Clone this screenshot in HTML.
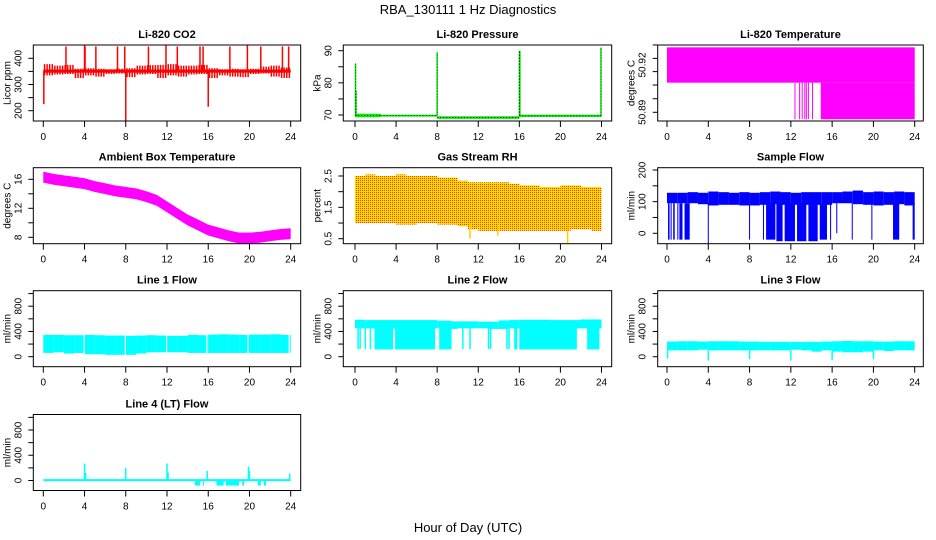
<!DOCTYPE html>
<html><head><meta charset="utf-8">
<style>
html,body{margin:0;padding:0;background:#fff;}
svg{display:block;font-family:"Liberation Sans",sans-serif;}
</style></head>
<body>
<svg id="chart" width="936" height="540" viewBox="0 0 936 540" xmlns="http://www.w3.org/2000/svg">
<defs>
<pattern id="rhpat" width="2" height="2" patternUnits="userSpaceOnUse">
<rect width="2" height="2" fill="#ffdd00"/><rect width="1" height="1" fill="#ff3300"/>
</pattern>
</defs>
<text x="468" y="14" text-anchor="middle" font-size="13">RBA_130111  1 Hz Diagnostics</text>
<text x="468" y="532" text-anchor="middle" font-size="13">Hour of Day (UTC)</text>
</svg>
<script>
// ---- data arrays ----
const xTicks = [0,4,8,12,16,20,24];
const hours = [0,1,2,3,4,5,6,7,8,9,10,11,12,13,14,15,16,17,18,19,20,21,22,23];
// CO2
const co2Hi = [378,372,375,360,362,360,358,360,362,372,374,375,378,372,372,375,362,358,360,358,360,368,372,365];
const co2Lo = [335,338,340,325,335,330,340,342,328,338,340,325,335,330,338,340,325,335,330,328,340,342,330,325];
const co2SpikeT = [0.05,2.2,4.0,4.05,5.1,7.2,7.9,8.0,10.2,11.9,13.0,15.2,15.5,16.0,18.1,19.8,21.1,23.2,23.8];
const co2SpikeV = [225,445,450,445,445,445,445,155,445,450,445,445,445,215,445,450,445,445,445];
// Pressure
const presT = [0,2.5,8,16,24];
const presLo = [69.3,69.5,68.8,69.4];
const presHi = [70.4,70.1,69.6,70.1];
const presSpikeT = [0.05,0.1,8.0,16.0,16.05,23.95];
const presSpikeV = [86,77.5,89.5,90,90,91];
// Li-820 temperature
const tempTicks = [50.8986,50.9073,50.9158,50.9242,50.9327,50.89];
const tempBandStart = [0,14.9];
const tempBandEnd = [24,24];
const tempBandLo = [50.9088,50.8856];
const tempBandHi = [50.9312,50.9088];
const tempLineT = [12.4,12.85,13.1,13.35,13.5,13.7,14.1];
// Ambient box temperature
const ambT = [0,1,2,3,4,5,6,7,8,9,10,11,12,13,14,15,16,17,18,19,20,21,22,23,24];
const ambV = [16.3,16.0,15.8,15.6,15.4,15.0,14.7,14.4,14.2,14.0,13.6,13.1,12.2,11.3,10.4,9.7,9.0,8.6,8.2,7.9,7.9,8.0,8.2,8.4,8.5];
// Gas stream RH
const rhHi = [2.5,2.55,2.5,2.5,2.55,2.5,2.5,2.5,2.45,2.45,2.35,2.3,2.3,2.3,2.3,2.25,2.2,2.2,2.15,2.15,2.2,2.2,2.15,2.15];
const rhLo = [1.0,1.0,1.0,1.0,0.95,0.95,1.0,1.0,0.95,0.95,0.9,0.8,0.75,0.75,0.75,0.75,0.75,0.75,0.75,0.75,0.75,0.8,0.8,0.75];
const rhSpikeT = [11.2,13.9,20.7];
const rhSpikeV = [0.5,0.6,0.35];
// Sample flow
const sfHi = [128,128,130,128,132,130,128,130,128,130,132,130,128,130,130,130,130,132,135,130,132,130,132,130];
const sfLo = [95,95,95,92,88,90,90,88,88,90,92,90,90,90,90,90,95,95,92,90,88,90,92,88];
const sfDropStart = [0.1,0.35,0.6,1.0,1.2,1.7,3.95,7.95,9.3,9.6,10.6,11.4,12.6,13.7,14.8,15.8,16.4,17.9,19.8,21.9,23.8];
const sfDropEnd   = [0.25,0.45,0.75,1.1,1.5,2.2,4.05,8.05,9.4,10.5,11.2,12.4,13.5,14.6,15.5,15.9,16.5,18.0,19.9,22.5,24.0];
const sfDropLo    = [-20,-20,-20,-20,-20,-20,-33,-20,-20,-20,-25,-25,-25,-25,-20,-20,0,-20,-20,-20,-20];
// Line 1 flow
const l1Hi = [345,345,340,340,345,340,335,335,330,335,340,335,330,330,345,340,350,355,350,345,350,350,355,345];
const l1Lo = [60,70,50,60,40,40,30,30,30,50,70,70,70,70,60,60,60,60,60,60,60,60,60,60];
const l1GapT = [3.9,7.9,11.9,15.8,19.8,23.8];
// Line 2 flow
const l2Hi = [585,580,580,580,580,580,580,580,570,560,560,560,555,555,575,580,585,585,585,580,580,580,590,590];
const l2Lo = [450,450,450,450,450,450,450,450,450,440,450,450,450,440,440,450,450,450,450,450,450,450,450,450];
const l2DenseStart = [1.9,3.9,8.2,15.5,16.0,22.6];
const l2DenseEnd   = [3.7,7.8,9.4,15.8,21.6,23.8];
const l2DropT = [0.3,0.5,1.0,1.5,10.5,11.2,13.0,13.2,14.8,15.0];
// Line 3 flow
const l3Hi = [240,245,245,240,245,245,245,240,240,235,235,235,235,235,235,240,245,250,245,245,240,240,245,245];
const l3Lo = [100,100,100,110,100,100,100,100,100,100,100,100,110,100,80,100,80,70,70,80,100,90,100,100];
const l3SpikeT = [0.05,4.0,8.0,12.0,16.0,20.0];
const l3SpikeV = [-30,-60,-40,-60,-50,-40];
// Line 4 flow
const l4SpikeT = [4.0,4.1,8.0,12.0,12.1,15.9,19.9,20.0,23.9];
const l4SpikeV = [270,120,200,270,130,150,220,150,110];
const l4DropStart = [14.7,15.5,16.8,17.7,19.3,20.8,21.4];
const l4DropEnd   = [15.2,15.6,17.5,19.0,19.5,21.1,21.6];
const l4DropV = -80;

// ---- layout ----
const svg = document.getElementById('chart');
const NS = 'http://www.w3.org/2000/svg';
const cols = [{l:33.3,r:300.7,x0:43.3,x24:290.7},{l:343.3,r:611.7,x0:355,x24:601.5},{l:657.7,r:923.3,x0:667,x24:914.7}];
const rowTops = [45,167.7,290.7,414.5];
const H = 76;
let clipId = 0;

function el(tag, attrs, parent, name){
  const e = document.createElementNS(NS, tag);
  for (const k in attrs) e.setAttribute(k, attrs[k]);
  
  
  (parent || svg).appendChild(e);
  return e;
}

function panel(col,row,title,ylab,v1,p1,v2,p2,ticks,labels,key){
  const c = cols[col], top = rowTops[row], bot = top + H;
  const g = el('g', {}, svg, key + '-panel');
  const sx = t => c.x0 + (c.x24 - c.x0) * t / 24;
  const sy = v => top + p1 + (v - v1) * (p2 - p1) / (v2 - v1);
  clipId++;
  const cp = el('clipPath', {id:'cp'+clipId}, g, key + '-clip');
  el('rect', {x:c.l, y:top, width:c.r-c.l, height:H}, cp, key + '-clip-rect');
  const plot = el('g', {'clip-path':'url(#cp'+clipId+')'}, g, key + '-plot-area');
  const tt = el('text', {x:(c.l+c.r)/2, y:top-7, 'text-anchor':'middle', 'font-size':11, 'font-weight':'bold'}, g, key + '-title');
  tt.textContent = title;
  el('rect', {x:c.l, y:top, width:c.r-c.l, height:H, fill:'none', stroke:'#000', 'stroke-width':1}, g, key + '-frame');
  xTicks.forEach(t => {
    el('line', {x1:sx(t), x2:sx(t), y1:bot, y2:bot+6, stroke:'#000'}, g, key + '-x-tick');
    const lb = el('text', {x:sx(t), y:bot+19, 'text-anchor':'middle', 'font-size':10}, g, key + '-x-tick-label');
    lb.textContent = String(t);
  });
  ticks.forEach(v => {
    const y = sy(v);
    if (y < top - 1.5 || y > bot + 1.5) return;
    el('line', {x1:c.l-5, x2:c.l, y1:y, y2:y, stroke:'#000'}, g, key + '-y-tick');
  });
  labels.forEach(v => {
    const y = sy(Number(v));
    const lb = el('text', {x:0, y:0, 'text-anchor':'middle', 'font-size':10, transform:'translate('+(c.l-12)+','+y+') rotate(-90)'}, g, key + '-y-tick-label');
    lb.textContent = String(v);
  });
  const yl = el('text', {x:0, y:0, 'text-anchor':'middle', 'font-size':10, transform:'translate('+(c.l-23)+','+(top+H/2)+') rotate(-90)'}, g, key + '-y-axis-title');
  yl.textContent = ylab;
  return {sx, sy, plot, top, bot};
}

function rectV(p, t1, t2, v1, v2, fill, name){
  const x1 = p.sx(t1), x2 = p.sx(t2);
  const ya = p.sy(v1), yb = p.sy(v2);
  el('rect', {x:x1, y:Math.min(ya,yb), width:Math.max(1,x2-x1), height:Math.max(1,Math.abs(yb-ya)), fill:fill}, p.plot, name);
}
function stick(p, t, v1, v2, color, w, name){
  el('line', {x1:p.sx(t), x2:p.sx(t), y1:p.sy(v1), y2:p.sy(v2), stroke:color, 'stroke-width':w}, p.plot, name);
}

// CO2
{
  const p = panel(0,0,'Li-820 CO2','Licor ppm',400,13.3,200,65.7,[200,250,300,350,400],[200,300,400],'co2');
  rectV(p, 0, 24, 345, 357, '#ff0000', 'co2-core-band');
  hours.forEach((h,i) => {
    for (let k = 0; k < 4; k++) {
      stick(p, h + 0.12 + k*0.25, co2Lo[i], co2Hi[i], '#ff0000', 1.5, 'co2-noise-stick');
    }
  });
  co2SpikeT.forEach((t,i) => stick(p, t, 350, co2SpikeV[i], '#ff0000', 1.5, 'co2-spike'));
}
// Pressure
{
  const p = panel(1,0,'Li-820 Pressure','kPa',90,5.7,70,70,[70,75,80,85,90],[70,80,90],'pressure');
  presLo.forEach((lo,i) => rectV(p, presT[i], presT[i+1], lo, presHi[i], '#00ee00', 'pressure-band'));
  presLo.forEach((lo,i) => el('line', {x1:p.sx(presT[i]), x2:p.sx(presT[i+1]), y1:p.sy((lo+presHi[i])/2), y2:p.sy((lo+presHi[i])/2), stroke:'#000', 'stroke-width':0.8, 'stroke-dasharray':'1 2'}, p.plot, 'pressure-line'));
  presSpikeT.forEach((t,i) => stick(p, t, 69.8, presSpikeV[i], '#00ee00', 1.5, 'pressure-spike'));
  presSpikeT.forEach((t,i) => el('line', {x1:p.sx(t), x2:p.sx(t), y1:p.sy(69.8), y2:p.sy(presSpikeV[i]), stroke:'#000', 'stroke-width':0.7, 'stroke-dasharray':'1 2'}, p.plot, 'pressure-spike-dots'));
}
// Li-820 Temperature
{
  const p = panel(2,0,'Li-820 Temperature','degrees C',50.92,20,50.89,67.3,tempTicks,['50.89','50.92'],'li820-temp');
  tempBandStart.forEach((s,i) => rectV(p, s, tempBandEnd[i], tempBandLo[i], tempBandHi[i], '#ff00ff', 'temp-band'));
  tempLineT.forEach(t => stick(p, t, 50.8856, 50.9088, '#ff00ff', 1, 'temp-line'));
}
// Ambient
{
  const p = panel(0,1,'Ambient Box Temperature','degrees C',16,11.6,8,69.6,[8,10,12,14,16],[8,12,16],'ambient');
  const up = ambT.map((t,i) => p.sx(t)+','+p.sy(ambV[i]+0.75)).join(' ');
  const dn = ambT.slice().reverse().map((t,i) => p.sx(t)+','+p.sy(ambV[ambV.length-1-i]-0.75)).join(' ');
  el('polygon', {points:up+' '+dn, fill:'#ff00ff'}, p.plot, 'ambient-band');
}
// RH
{
  const p = panel(1,1,'Gas Stream RH','percent',2.5,8.3,0.5,71,[0.5,1,1.5,2,2.5],['0.5','1.5','2.5'],'rh');
  hours.forEach((h,i) => rectV(p, h, h+1, rhLo[i], rhHi[i], 'url(#rhpat)', 'rh-band'));
  rhSpikeT.forEach((t,i) => stick(p, t, 1.0, rhSpikeV[i], '#ffcc00', 1.5, 'rh-spike'));
}
// Sample flow
{
  const p = panel(2,1,'Sample Flow','ml/min',200,2.3,0,65.6,[0,50,100,150,200],[0,100,200],'sample-flow');
  hours.forEach((h,i) => rectV(p, h, h+1, sfLo[i], sfHi[i], '#0000ff', 'sample-flow-band'));
  sfDropStart.forEach((s,i) => rectV(p, s, sfDropEnd[i], sfDropLo[i], 95, '#0000ff', 'sample-flow-drop'));
}
const flowTicks = [0,200,400,600,800,1000];
const flowLabels = [0,400,800];
// Line 1
{
  const p = panel(0,2,'Line 1 Flow','ml/min',800,15.5,0,66,flowTicks,flowLabels,'line1-flow');
  hours.forEach((h,i) => rectV(p, h, h+1, l1Lo[i], l1Hi[i], '#00ffff', 'line1-band'));
  l1GapT.forEach(t => rectV(p, t, t+0.12, 0, 400, '#ffffff', 'line1-gap'));
}
// Line 2
{
  const p = panel(1,2,'Line 2 Flow','ml/min',800,15.5,0,66,flowTicks,flowLabels,'line2-flow');
  hours.forEach((h,i) => rectV(p, h, h+1, l2Lo[i], l2Hi[i], '#00ffff', 'line2-band'));
  l2DenseStart.forEach((s,i) => rectV(p, s, l2DenseEnd[i], 115, 570, '#00ffff', 'line2-dense'));
  l2DropT.forEach(t => stick(p, t, 450, 120, '#00ffff', 1.5, 'line2-drop'));
}
// Line 3
{
  const p = panel(2,2,'Line 3 Flow','ml/min',800,15.5,0,66,flowTicks,flowLabels,'line3-flow');
  hours.forEach((h,i) => rectV(p, h, h+1, l3Lo[i], l3Hi[i], '#00ffff', 'line3-band'));
  l3SpikeT.forEach((t,i) => stick(p, t, 100, l3SpikeV[i], '#00ffff', 1.5, 'line3-spike'));
}
// Line 4
{
  const p = panel(0,3,'Line 4 (LT) Flow','ml/min',800,15.5,0,66,flowTicks,flowLabels,'line4-flow');
  rectV(p, 0, 24, -10, 22, '#00ffff', 'line4-base');
  l4SpikeT.forEach((t,i) => stick(p, t, 10, l4SpikeV[i], '#00ffff', 1.5, 'line4-spike'));
  l4DropStart.forEach((s,i) => rectV(p, s, l4DropEnd[i], l4DropV, 0, '#00ffff', 'line4-drop'));
}
</script>
</body></html>
